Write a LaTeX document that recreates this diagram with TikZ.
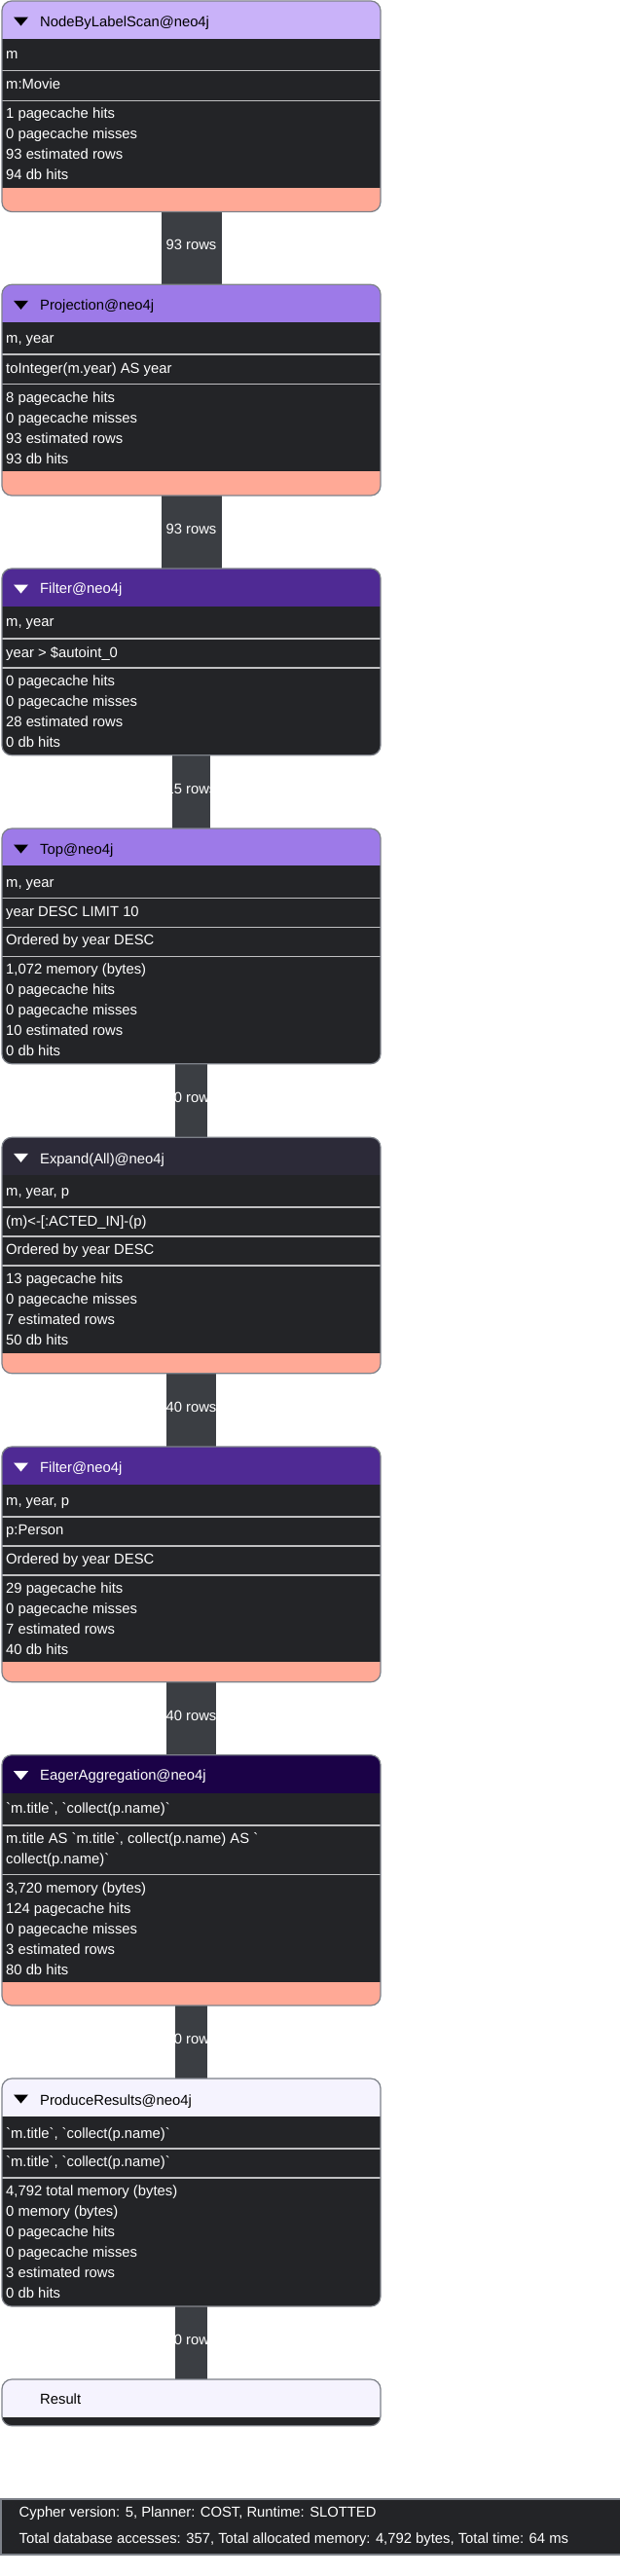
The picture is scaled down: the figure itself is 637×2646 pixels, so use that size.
\documentclass[tikz,border=0pt]{standalone}
\usepackage{fontspec}
\newfontfamily\uifont{Liberation Sans}[Ligatures=TeXOff]
\definecolor{bodydark}{RGB}{35,36,39}
\definecolor{conngray}{RGB}{59,62,67}
\definecolor{bordergray}{RGB}{125,129,137}
\definecolor{sepgray}{RGB}{192,192,194}
\definecolor{pinkbar}{RGB}{255,169,150}
\definecolor{hLav}{RGB}{201,178,249}
\definecolor{hMid}{RGB}{157,122,232}
\definecolor{hDeep}{RGB}{79,42,148}
\definecolor{hDark}{RGB}{44,42,56}
\definecolor{hNavy}{RGB}{27,2,71}
\definecolor{hPale}{RGB}{245,243,254}
\tikzset{
  opshape/.style={rectangle, inner sep=0pt, minimum width=389bp, draw=none},
  conn/.style={draw=conngray},
  lbl/.style={midway, inner sep=0pt, text=white, yshift=3.5bp, font=\uifont\fontsize{14.8bp}{17bp}\selectfont},
  txt/.style={anchor=base west, inner sep=0pt, text=white, font=\uifont\fontsize{14.8bp}{17bp}\selectfont},
  ttl/.style={txt},
  sepstyle/.style={draw=sepgray, line width=1.5bp},
  boxline/.style={draw=bordergray, line width=1.2bp, rounded corners=10bp},
}
\newcommand\opnode[3]{\node[opshape, minimum height={(#3-#2)*1bp}, anchor=north] (#1) at (196.5,#2) {};}
\newcommand\opframe[6]{%
  \begin{scope}
    \clip[rounded corners=10bp] (2,#1) rectangle (391,#2);
    \fill[bodydark] (2,#1) rectangle (391,#2);
    \fill[#3] (2,#1) rectangle (391,#4);
    \fill[pinkbar] (2,#5) rectangle (391,#2);
  \end{scope}
  \foreach \s in {#6} {\draw[sepstyle] (2,\s) -- (391,\s);}
  \draw[boxline] (2,#1) rectangle (391,#2);
}
\newcommand\optri[2]{\fill[#2] (14,#1+16.5) -- (29,#1+16.5) -- (21.5,#1+25.5) -- cycle;}
\begin{document}
\begin{tikzpicture}[x=1bp,y=-1bp]
\useasboundingbox (0,0) rectangle (637,2646);
\fill[white] (0,0) rectangle (637,2646);
% named operator nodes
\opnode{op1}{1}{217.5}
\opnode{op2}{292.3}{509}
\opnode{op3}{584}{775.7}
\opnode{op4}{851}{1092.7}
\opnode{op5}{1168.3}{1410.7}
\opnode{op6}{1486}{1727.7}
\opnode{op7}{1802.7}{2060}
\opnode{op8}{2135}{2369}
\opnode{res}{2444}{2491.7}
% connectors
\draw[conn, line width=62bp] (op1.south) -- (op2.north) node[lbl] (l1) {93 rows};
\draw[conn, line width=62bp] (op2.south) -- (op3.north) node[lbl] (l2) {93 rows};
\draw[conn, line width=39bp] (op3.south) -- (op4.north) node[lbl] (l3) {15 rows};
\draw[conn, line width=33bp] (op4.south) -- (op5.north) node[lbl] (l4) {10 rows};
\draw[conn, line width=51bp] (op5.south) -- (op6.north) node[lbl] (l5) {40 rows};
\draw[conn, line width=51bp] (op6.south) -- (op7.north) node[lbl] (l6) {40 rows};
\draw[conn, line width=33bp] (op7.south) -- (op8.north) node[lbl] (l7) {10 rows};
\draw[conn, line width=33bp] (op8.south) -- (res.north) node[lbl] (l8) {10 rows};
% box 1
\opframe{1}{217.5}{hLav}{39.5}{192.7}{72.7,103.3}
\optri{1}{black}
\node[ttl, text=black] (t1) at (41,27.6) {NodeByLabelScan@neo4j};
\node[txt] (t1a) at (6,60.5) {m};
\node[txt] (t1b) at (6,91.5) {m:Movie};
\node[txt] (t1c) at (6,121.3) {1 pagecache hits};
\node[txt] (t1d) at (6,142.3) {0 pagecache misses};
\node[txt] (t1e) at (6,163.3) {93 estimated rows};
\node[txt] (t1f) at (6,184.3) {94 db hits};
% box 2
\opframe{292.3}{509}{hMid}{331}{484.3}{364,394.3}
\optri{292.3}{black}
\node[ttl, text=black] (t2) at (41,318.6) {Projection@neo4j};
\node[txt] (t2a) at (6,352.5) {m, year};
\node[txt] (t2b) at (6,383.3) {toInteger(m.year) AS year};
\node[txt] (t2c) at (6,413) {8 pagecache hits};
\node[txt] (t2d) at (6,434) {0 pagecache misses};
\node[txt] (t2e) at (6,455) {93 estimated rows};
\node[txt] (t2f) at (6,476) {93 db hits};
% box 3
\opframe{584}{775.7}{hDeep}{622.7}{775.7}{656,686}
\optri{584}{white}
\node[ttl] (t3) at (41,609.6) {Filter@neo4j};
\node[txt] (t3a) at (6,643.8) {m, year};
\node[txt] (t3b) at (6,675) {year > \$autoint\_0};
\node[txt] (t3c) at (6,704.5) {0 pagecache hits};
\node[txt] (t3d) at (6,725.5) {0 pagecache misses};
\node[txt] (t3e) at (6,746.5) {28 estimated rows};
\node[txt] (t3f) at (6,767.5) {0 db hits};
% box 4
\opframe{851}{1092.7}{hMid}{889.3}{1092.7}{922.3,952.3,982.3}
\optri{851}{black}
\node[ttl, text=black] (t4) at (41,877) {Top@neo4j};
\node[txt] (t4a) at (6,911) {m, year};
\node[txt] (t4b) at (6,941.3) {year DESC LIMIT 10};
\node[txt] (t4c) at (6,970.3) {Ordered by year DESC};
\node[txt] (t4d) at (6,1000.3) {1,072 memory (bytes)};
\node[txt] (t4e) at (6,1021.3) {0 pagecache hits};
\node[txt] (t4f) at (6,1042.3) {0 pagecache misses};
\node[txt] (t4g) at (6,1063.3) {10 estimated rows};
\node[txt] (t4h) at (6,1084.3) {0 db hits};
% box 5
\opframe{1168.3}{1410.7}{hDark}{1206.7}{1390}{1240,1270,1300}
\optri{1168.3}{white}
\node[ttl] (t5) at (41,1195.3) {Expand(All)@neo4j};
\node[txt] (t5a) at (6,1228.5) {m, year, p};
\node[txt] (t5b) at (6,1259.3) {(m)<-[:ACTED\_IN]-(p)};
\node[txt] (t5c) at (6,1288.6) {Ordered by year DESC};
\node[txt] (t5d) at (6,1318) {13 pagecache hits};
\node[txt] (t5e) at (6,1339) {0 pagecache misses};
\node[txt] (t5f) at (6,1360) {7 estimated rows};
\node[txt] (t5g) at (6,1381) {50 db hits};
% box 6
\opframe{1486}{1727.7}{hDeep}{1525}{1707.3}{1558,1588,1618}
\optri{1486}{white}
\node[ttl] (t6) at (41,1512.6) {Filter@neo4j};
\node[txt] (t6a) at (6,1546) {m, year, p};
\node[txt] (t6b) at (6,1576.3) {p:Person};
\node[txt] (t6c) at (6,1606.3) {Ordered by year DESC};
\node[txt] (t6d) at (6,1636.3) {29 pagecache hits};
\node[txt] (t6e) at (6,1657.3) {0 pagecache misses};
\node[txt] (t6f) at (6,1678.3) {7 estimated rows};
\node[txt] (t6g) at (6,1699.3) {40 db hits};
% box 7
\opframe{1802.7}{2060}{hNavy}{1841.7}{2036}{1875,1925.7}
\optri{1802.7}{white}
\node[ttl] (t7) at (41,1828.6) {EagerAggregation@neo4j};
\node[txt] (t7a) at (6,1862.6) {`m.title`, `collect(p.name)`};
\node[txt] (t7b) at (6,1893) {m.title AS `m.title`, collect(p.name) AS `};
\node[txt] (t7c) at (6,1914.3) {collect(p.name)`};
\node[txt] (t7d) at (6,1944.3) {3,720 memory (bytes)};
\node[txt] (t7e) at (6,1965.3) {124 pagecache hits};
\node[txt] (t7f) at (6,1986.3) {0 pagecache misses};
\node[txt] (t7g) at (6,2007.3) {3 estimated rows};
\node[txt] (t7h) at (6,2028.3) {80 db hits};
% box 8
\opframe{2135}{2369}{hPale}{2174}{2369}{2207,2237}
\optri{2135}{black}
\node[ttl, text=black] (t8) at (41,2162) {ProduceResults@neo4j};
\node[txt] (t8a) at (6,2196) {`m.title`, `collect(p.name)`};
\node[txt] (t8b) at (6,2225.3) {`m.title`, `collect(p.name)`};
\node[txt] (t8c) at (6,2255.3) {4,792 total memory (bytes)};
\node[txt] (t8d) at (6,2276.3) {0 memory (bytes)};
\node[txt] (t8e) at (6,2297.3) {0 pagecache hits};
\node[txt] (t8f) at (6,2318.3) {0 pagecache misses};
\node[txt] (t8g) at (6,2339.3) {3 estimated rows};
\node[txt] (t8h) at (6,2360.3) {0 db hits};
% result
\begin{scope}
  \clip[rounded corners=10bp] (2,2444) rectangle (391,2491.7);
  \fill[bodydark] (2,2444) rectangle (391,2491.7);
  \fill[hPale] (2,2444) rectangle (391,2482.7);
\end{scope}
\draw[boxline] (2,2444) rectangle (391,2491.7);
\node[ttl, text=black] (tr) at (41,2469.3) {Result};
% footer
\fill[bodydark] (1,2567) rectangle (660,2624);
\draw[draw=bordergray, line width=1.2bp] (1,2567) rectangle (660,2624);
\node[txt] (f1) at (19.5,2585.3) {Cypher version: 5, Planner: COST, Runtime: SLOTTED};
\node[txt] (f2) at (19.5,2612.3) {Total database accesses: 357, Total allocated memory: 4,792 bytes, Total time: 64 ms};
\end{tikzpicture}
\end{document}
